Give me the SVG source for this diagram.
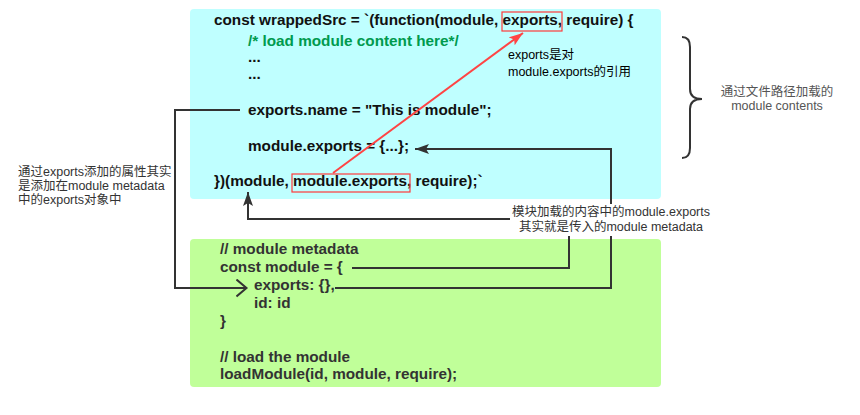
<svg xmlns="http://www.w3.org/2000/svg" width="860" height="415" viewBox="0 0 860 415">
<style>
.code{font-family:"Liberation Sans","Noto Sans CJK SC",sans-serif;font-weight:bold;font-size:15.3px;}
.top{fill:#111;}
.bot{fill:#333;}
.cmt{fill:#009a4e;}
.note{font-family:"Liberation Sans","Noto Sans CJK SC",sans-serif;font-size:12.5px;}
.conn{fill:none;stroke:#333;stroke-width:2;}
.red{fill:none;stroke:#ff3b3b;stroke-width:1.2;}
</style>
<defs>
<marker id="ah" markerUnits="userSpaceOnUse" markerWidth="16" markerHeight="12" refX="14" refY="5" orient="auto">
<path d="M0,0 L14,5 L0,10 L3,5 z" fill="#333"/>
</marker>
<marker id="ahr" markerUnits="userSpaceOnUse" markerWidth="16" markerHeight="12" refX="14" refY="5" orient="auto">
<path d="M0,0 L14,5 L0,10 L3,5 z" fill="#ff4444"/>
</marker>
<marker id="open" markerUnits="userSpaceOnUse" markerWidth="14" markerHeight="20" refX="11" refY="9" orient="auto">
<path d="M1,0.5 L11,9 L1,17.5" fill="none" stroke="#333" stroke-width="2"/>
</marker>
</defs>

<g id="wrapped-src">
<rect x="190" y="9" width="471" height="190" rx="4" fill="#bfffff"/>
<text class="code top" x="214" y="25">const wrappedSrc = `(function(module, exports, require) {</text>
<text class="code cmt" x="248" y="46">/* load module content here*/</text>
<text class="code top" x="248" y="62">...</text>
<text class="code top" x="248" y="79">...</text>
<text class="code top" x="248" y="115">exports.name = "This is module";</text>
<text class="code top" x="248" y="151">module.exports = {...};</text>
<text class="code top" x="214" y="186">})(module, module.exports, require);`</text>
<rect class="red" x="502" y="12" width="60" height="19"/>
<rect class="red" x="292" y="174" width="118" height="18"/>
</g>

<g id="module-metadata">
<rect x="190" y="239" width="471" height="148" rx="4" fill="#c0ff99"/>
<text class="code bot" x="220" y="254">// module metadata</text>
<text class="code bot" x="220" y="272">const module = {</text>
<text class="code bot" x="254" y="290">exports: {},</text>
<text class="code bot" x="254" y="308">id: id</text>
<text class="code bot" x="220" y="326">}</text>
<text class="code bot" x="220" y="362">// load the module</text>
<text class="code bot" x="220" y="379">loadModule(id, module, require);</text>
</g>

<g id="connectors">
<path class="conn" d="M240,110 H175 V288 H246.5" marker-end="url(#open)"/>
<path class="conn" d="M335,288 H611 V149 H415" marker-end="url(#ah)"/>
<path class="conn" d="M352,268 H569 V219 H248 V192" marker-end="url(#ah)"/>
<path d="M333,173 L523,33" fill="none" stroke="#ff4444" stroke-width="2" marker-end="url(#ahr)"/>
<path class="conn" d="M682,37 Q690,37 690,47 L690,89 Q690,99 702,99 Q690,99 690,109 L690,148 Q690,158 682,158"/>
</g>

<g id="note-exports-ref">
<text class="note" x="508" y="59" fill="#000" font-size="13">exports是对</text>
<text class="note" x="508" y="76" fill="#000" font-size="13">module.exports的引用</text>
</g>

<g id="note-left">
<text class="note" x="18" y="176" fill="#333">通过exports添加的属性其实</text>
<text class="note" x="18" y="190" fill="#333">是添加在module metadata</text>
<text class="note" x="18" y="204" fill="#333">中的exports对象中</text>
</g>

<g id="note-contents">
<text class="note" x="777" y="96" fill="#555" font-size="12" text-anchor="middle">通过文件路径加载的</text>
<text class="note" x="777" y="110" fill="#555" font-size="12.5" text-anchor="middle">module contents</text>
</g>

<g id="note-middle">
<rect x="510" y="204" width="202" height="32" fill="#fff"/>
<text class="note" x="611" y="216" fill="#333" text-anchor="middle">模块加载的内容中的module.exports</text>
<text class="note" x="611" y="231" fill="#333" text-anchor="middle">其实就是传入的module metadata</text>
</g>
</svg>
